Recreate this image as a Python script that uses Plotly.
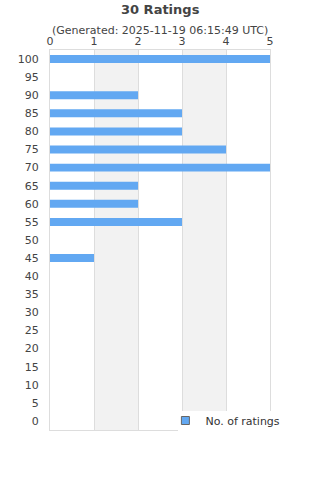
import plotly.graph_objects as go

categories = [str(v) for v in range(0, 101, 5)]
counts = [0, 0, 0, 0, 0, 0, 0, 0, 0, 1, 0, 3, 2, 2, 5, 4, 3, 3, 2, 0, 5]
x_ticks = [0, 1, 2, 3, 4, 5]
series_name = "No. of ratings"
title = "30 Ratings"
subtitle = "(Generated: 2025-11-19 06:15:49 UTC)"

font = "DejaVu Sans"
bar_color = "#62a8f2"
fig = go.Figure()
fig.add_trace(go.Bar(
    y=categories, x=counts, orientation="h", name=series_name,
    marker=dict(color=bar_color, line=dict(width=0)),
    showlegend=False,
))
# legend entry (small square swatch with grey border)
fig.add_trace(go.Scatter(
    x=[None], y=[None], mode="markers", name=series_name,
    marker=dict(symbol="square", size=8, color=bar_color,
                line=dict(color="#666", width=1)),
    showlegend=True,
))
for a, b in [(1, 2), (3, 4)]:
    fig.add_shape(type="rect", xref="x", yref="paper", x0=a, x1=b, y0=0, y1=1,
                  fillcolor="#f2f2f2", line=dict(width=0), layer="below")
# white legend background box
fig.add_shape(type="rect", xref="paper", yref="paper", x0=128 / 220, x1=1.3,
              y0=-3 / 380, y1=19 / 380, fillcolor="white", line=dict(width=0),
              layer="above")

fig.update_layout(
    width=320, height=480,
    margin=dict(l=50, r=50, t=50, b=50),
    paper_bgcolor="white", plot_bgcolor="white",
    font=dict(family=font, color="#444", size=11),
    bargap=0.56,
    showlegend=True,
    legend=dict(orientation="h", x=1.07, xanchor="right", y=0.025, yanchor="middle",
                bgcolor="rgba(0,0,0,0)", font=dict(size=11, color="#333"),
                itemwidth=30, tracegroupgap=0),
    xaxis=dict(side="top", range=[0, 5], tickvals=x_ticks, showgrid=True,
               gridcolor="#dddddd", gridwidth=1, showline=True, linecolor="#dddddd",
               mirror=True, ticks="", zeroline=False, tickfont=dict(size=11, color="#444")),
    yaxis=dict(type="category", categoryorder="array", categoryarray=categories,
               showgrid=False, showline=True, linecolor="#dddddd", mirror=True,
               ticks="", ticklabelstandoff=8, tickfont=dict(size=11, color="#444")),
    annotations=[
        dict(text="<b>" + title + "</b>", xref="paper", yref="paper", x=0.5, y=1,
             yshift=31, xanchor="center", yanchor="bottom", showarrow=False,
             font=dict(size=13, color="#444")),
        dict(text=subtitle, xref="paper", yref="paper", x=0.5, y=1,
             yshift=11, xanchor="center", yanchor="bottom", showarrow=False,
             font=dict(size=11, color="#444")),
    ],
)
fig.write_html("out.html")
